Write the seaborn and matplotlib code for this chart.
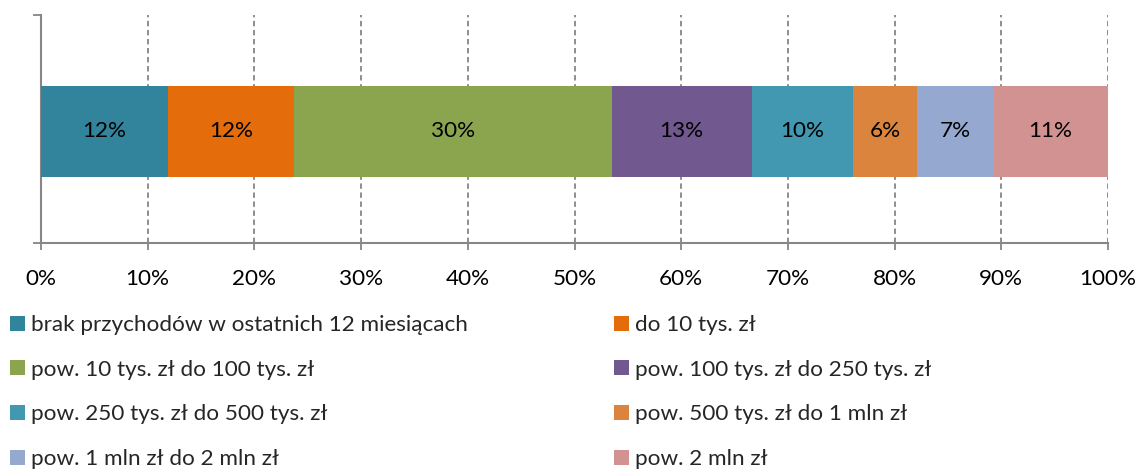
import matplotlib
matplotlib.use("Agg")
import matplotlib.pyplot as plt
from matplotlib.patches import Patch
import seaborn as sns
import numpy as np
import pandas as pd

# ---- data ----
categories = [
    "brak przychodów w ostatnich 12 miesiącach",
    "do 10 tys. zł",
    "pow. 10 tys. zł do 100 tys. zł",
    "pow. 100 tys. zł do 250 tys. zł",
    "pow. 250 tys. zł do 500 tys. zł",
    "pow. 500 tys. zł do 1 mln zł",
    "pow. 1 mln zł do 2 mln zł",
    "pow. 2 mln zł",
]
shares = [11.9, 11.8, 29.8, 13.1, 9.5, 6.0, 7.1, 10.8]
colors = ["#31849B", "#E46C0A", "#8BA54F", "#71588F",
          "#4298B0", "#DB843D", "#95A9D0", "#D39292"]
xticks = [0, 10, 20, 30, 40, 50, 60, 70, 80, 90, 100]
xtick_labels = [f"{t}%" for t in xticks]

sns.set_theme(style="white")
plt.rcParams["font.family"] = ["Lato", "DejaVu Sans"]

W, H = 1139, 473
FS = 16.2
fig = plt.figure(figsize=(W / 100, H / 100), dpi=100)
ax = fig.add_axes([41 / W, 1 - 243 / H, (1108 - 41) / W, (243 - 15) / H])

cum = np.cumsum(shares)
df = pd.DataFrame({"cat": categories, "share": shares, "cum": cum, "color": colors})

# overlap technique: draw cumulative totals from largest to smallest
for i in range(len(df) - 1, -1, -1):
    sns.barplot(x=[df["cum"][i]], y=[""], color=df["color"][i], orient="h",
                width=0.4, linewidth=0, saturation=1, ax=ax, zorder=3)

for i in range(len(df)):
    ax.text(df["cum"][i] - df["share"][i] / 2, 0, f"{df['share'][i]:.0f}%",
            ha="center", va="center", fontsize=FS, color="black", zorder=4)

gray = "#868686"
off = -0.01
ax.set_xlim(0, 100)
ax.set_ylim(0.5 + off, -0.5 + off)
ax.set_xticks(xticks)
ax.set_xticklabels(xtick_labels, fontsize=FS, color="black")
ax.set_yticks([-0.5 + off, 0.5 + off])
ax.set_yticklabels([])
ax.set_xlabel("")
ax.set_ylabel("")
ax.tick_params(axis="x", length=5, width=1.3, color=gray, direction="out", pad=14, bottom=True)
ax.tick_params(axis="y", length=6, width=1.3, color=gray, direction="out", left=True)
for s in ["top", "right"]:
    ax.spines[s].set_visible(False)
for s in ["left", "bottom"]:
    ax.spines[s].set_color(gray)
    ax.spines[s].set_linewidth(1.5)
for t in xticks[1:]:
    ax.axvline(t, color=gray, linestyle=(0, (3, 2)), linewidth=1.3, zorder=1)

# legend in two columns
handles = [Patch(facecolor=c, edgecolor="none") for c in colors]
leg_kw = dict(loc="upper left", frameon=False, fontsize=FS, borderpad=0,
              borderaxespad=0, handlelength=0.65, handleheight=0.65,
              handletextpad=0.3, labelspacing=1.1)
fig.legend(handles[0::2], categories[0::2], bbox_to_anchor=(10 / W, 1 - 315 / H), **leg_kw)
fig.legend(handles[1::2], categories[1::2], bbox_to_anchor=(614 / W, 1 - 315 / H), **leg_kw)

fig.savefig("out.png", dpi=100)
